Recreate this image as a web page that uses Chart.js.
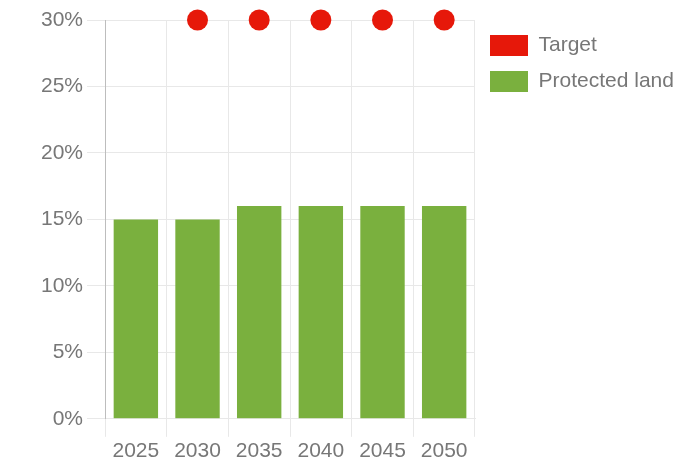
<!DOCTYPE html>
<html>
<head>
<meta charset="utf-8">
<script src="https://cdn.jsdelivr.net/npm/chart.js@4"></script>
<style>
  html, body { margin: 0; padding: 0; background: #fff; overflow: hidden; }
  #wrap { width: 677px; height: 469px; position: relative; }
</style>
</head>
<body>
<div id="wrap"><canvas id="chart"></canvas></div>
<script>
const years = ['2025', '2030', '2035', '2040', '2045', '2050'];
const targetPct = [null, 30, 30, 30, 30, 30];
const protectedPct = [15, 15, 16, 16, 16, 16];
const yTicks = [0, 5, 10, 15, 20, 25, 30];

const RED = 'rgb(230, 24, 10)';
const GREEN = 'rgb(122, 176, 62)';
const TXT = '#777';
const GRID = '#e8e8e8';
const LEGEND_W = 202;

Chart.defaults.font.family = '"Liberation Sans", Arial, sans-serif';
Chart.defaults.font.size = 21;
Chart.defaults.color = TXT;

// right legend gets a fixed width instead of the quarter-width cap,
// so the long label just runs into the edge
const legendWidth = {
  id: 'legendWidth',
  afterInit(chart) {
    const legend = chart.legend;
    const fit = legend.fit.bind(legend);
    legend.fit = () => { fit(); legend.width = LEGEND_W; };
  }
};

new Chart(document.getElementById('chart'), {
  type: 'bar',
  data: {
    labels: years,
    datasets: [
      {
        type: 'line',
        label: 'Target',
        data: targetPct,
        showLine: false,
        clip: false,
        backgroundColor: RED,
        borderColor: RED,
        borderWidth: 0,
        pointRadius: 10.5,
        pointHoverRadius: 10.5,
        pointBorderWidth: 0,
        order: 0
      },
      {
        label: 'Protected land',
        data: protectedPct,
        backgroundColor: GREEN,
        borderWidth: 0,
        order: 1
      }
    ]
  },
  plugins: [legendWidth],
  options: {
    responsive: true,
    maintainAspectRatio: false,
    animation: false,
    layout: { padding: { left: 37, top: 20, bottom: 3, right: 0 } },
    plugins: {
      tooltip: { enabled: false },
      legend: {
        position: 'right',
        align: 'start',
        labels: {
          boxWidth: 38,
          boxHeight: 21,
          padding: 15,
          color: TXT,
          font: { size: 21 }
        }
      }
    },
    scales: {
      x: {
        grid: { color: GRID, tickLength: 18, offset: true },
        border: { color: GRID },
        ticks: { padding: 2 }
      },
      y: {
        min: 0,
        max: 30,
        afterBuildTicks: axis => { axis.ticks = yTicks.map(v => ({ value: v })); },
        grid: { color: GRID, tickLength: 18 },
        border: { color: '#bdbdbd' },
        ticks: { padding: 4, callback: v => v + '%' }
      }
    }
  }
});
</script>
</body>
</html>
